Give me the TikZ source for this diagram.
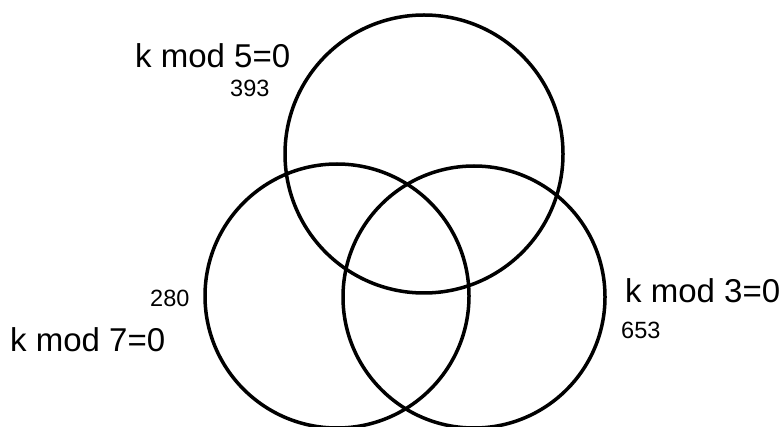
\documentclass[tikz,border=0pt]{standalone}
\usepackage{fontspec}
\setmainfont{Liberation Sans}
\usetikzlibrary{positioning}

\begin{document}
\begin{tikzpicture}[
    x=1pt, y=-1pt,
    setcircle/.style={
        draw, circle, line width=3.5pt, inner sep=0pt, minimum size=#1
    },
    setlabel/.style={
        anchor=base west, inner sep=0pt, font=\fontsize{33}{36}\selectfont
    },
    countlabel/.style={
        anchor=base west, inner sep=0pt, font=\fontsize{23.5}{26}\selectfont
    }
]

\useasboundingbox (0,0) rectangle (781,427);

% -------------------------
% Sets (circles)
% -------------------------

% 1. Multiples of 5 (Top)
\node[setcircle=278pt] (mod5) at (424, 154) {};

% 2. Multiples of 7 (Left)
\node[setcircle=264pt] (mod7) at (337, 296) {};

% 3. Multiples of 3 (Right)
\node[setcircle=262pt] (mod3) at (474, 297) {};

% -------------------------
% Set names and counts
% -------------------------

\node[setlabel] (name5) at (135, 68) {k mod 5=0};
\node[countlabel] (count5) at (230, 97) {393};

\node[countlabel] (count7) at (150, 307) {280};
\node[setlabel] (name7) at (10, 351) {k mod 7=0};

\node[setlabel] (name3) at (625, 303) {k mod 3=0};
\node[countlabel] (count3) at (621, 338) {653};

\end{tikzpicture}
\end{document}
